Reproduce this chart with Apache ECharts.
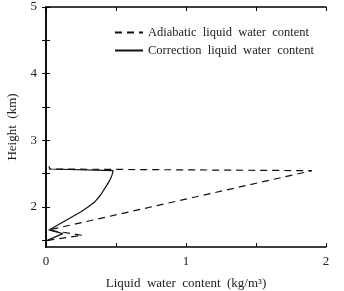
<!DOCTYPE html>
<html>
<head>
<meta charset="utf-8">
<script src="https://cdn.jsdelivr.net/npm/echarts@6/dist/echarts.min.js"></script>
<style>
  html, body { margin: 0; padding: 0; background: #fff; }
  #main { width: 344px; height: 291px; }
</style>
</head>
<body>
<div id="main"></div>
<script>
// values
var adiabaticLWC = [0.01, 0.26, 0.02, 1.90, 0.02];
var adiabaticHeight = [1.50, 1.575, 1.655, 2.545, 2.57];
var correctionLWC = [0.01, 0.12, 0.02, 0.05, 0.10, 0.15, 0.20, 0.25, 0.30, 0.35, 0.39, 0.42, 0.45, 0.47, 0.48, 0.03, 0.02];
var correctionHeight = [1.50, 1.60, 1.655, 1.69, 1.75, 1.81, 1.87, 1.93, 2.00, 2.08, 2.18, 2.28, 2.38, 2.47, 2.545, 2.57, 2.61];
var heightTicks = [1.5, 2, 2.5, 3, 3.5, 4, 4.5, 5];
var heightLabels = [2, 3, 4, 5];

function pairs(xs, ys) {
  var out = [];
  for (var i = 0; i < xs.length; i++) out.push([xs[i], ys[i]]);
  return out;
}

var font = '"Liberation Serif", "DejaVu Serif", serif';
var chart = echarts.init(document.getElementById('main'));

var xBase = {
  type: 'value', min: 0, max: 2, interval: 0.5,
  axisLine: { show: true, lineStyle: { color: '#000', width: 1.5 } },
  axisTick: { show: true, inside: true, length: 4, lineStyle: { color: '#000' } },
  splitLine: { show: false }
};
var yBase = {
  type: 'value', min: 1.4, max: 5,
  axisLine: { show: true, lineStyle: { color: '#000', width: 1.5 } },
  axisTick: { show: true, inside: true, length: 4, customValues: heightTicks, lineStyle: { color: '#000' } },
  splitLine: { show: false }
};

var option = {
  animation: false,
  textStyle: { fontFamily: font },
  grid: { left: 46, right: 18, top: 7, bottom: 44, outerBoundsMode: 'none' },
  legend: {
    orient: 'vertical',
    left: 114, top: 26, padding: 0,
    itemWidth: 28, itemHeight: 12, itemGap: 5,
    itemStyle: { opacity: 0 },
    textStyle: { fontFamily: font, fontSize: 12.5, color: '#222' },
    data: ['Adiabatic  liquid  water  content', 'Correction  liquid  water  content']
  },
  xAxis: [
    Object.assign({}, xBase, {
      position: 'bottom',
      name: 'Liquid  water  content  (kg/m\u00b3)',
      nameLocation: 'middle', nameGap: 30,
      nameTextStyle: { fontFamily: font, fontSize: 13, color: '#222' },
      axisLabel: {
        fontFamily: font, fontSize: 13, color: '#222', margin: 8,
        formatter: function (v) { return v % 1 === 0 ? String(v) : ''; }
      }
    }),
    Object.assign({}, xBase, { position: 'top', axisLabel: { show: false } })
  ],
  yAxis: [
    Object.assign({}, yBase, {
      position: 'left',
      name: 'Height  (km)',
      nameLocation: 'middle', nameGap: 27,
      nameTextStyle: { fontFamily: font, fontSize: 13, color: '#222' },
      axisLabel: { fontFamily: font, fontSize: 13, color: '#222', margin: 9, customValues: heightLabels }
    }),
    Object.assign({}, yBase, { position: 'right', axisLabel: { show: false } })
  ],
  series: [
    {
      name: 'Adiabatic  liquid  water  content',
      type: 'line', xAxisIndex: 0, yAxisIndex: 0,
      symbol: 'none',
      lineStyle: { color: '#111', width: 1.2, type: [7, 5] },
      itemStyle: { color: '#111' },
      data: pairs(adiabaticLWC, adiabaticHeight)
    },
    {
      name: 'Correction  liquid  water  content',
      type: 'line', xAxisIndex: 0, yAxisIndex: 0,
      symbol: 'none',
      lineStyle: { color: '#111', width: 1.2, type: 'solid' },
      itemStyle: { color: '#111' },
      data: pairs(correctionLWC, correctionHeight)
    }
  ]
};

chart.setOption(option);
</script>
</body>
</html>
